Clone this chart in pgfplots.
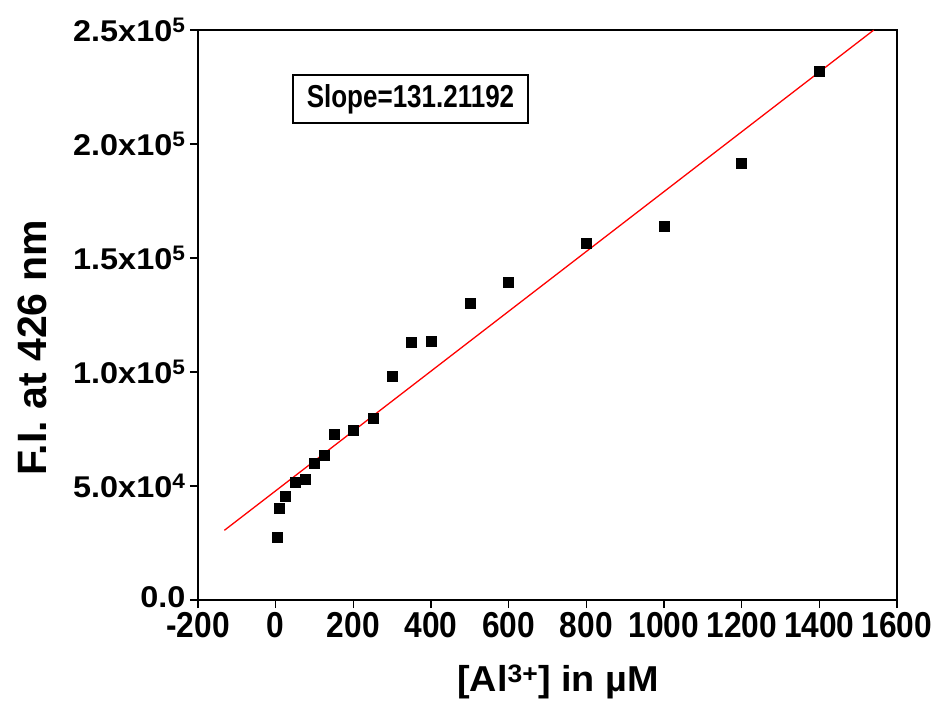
\documentclass[border=0pt]{standalone}
\usepackage{fontspec}
\setmainfont{Liberation Sans}
\usepackage{graphicx}
\usepackage{pgfplots}
\pgfplotsset{compat=1.18}

% narrow, tall tick numbers on x as in the reference
\newcommand{\xt}[1]{\scalebox{0.88}[1]{#1}}
\newcommand{\yt}[1]{\scalebox{1.08}[1]{#1}}

\begin{document}
\begin{tikzpicture}
% fix the page to the reference frame (1pt = 1px)
\path[use as bounding box] (-198pt,-110pt) rectangle (742pt,600pt);
\begin{axis}[
  at={(0,0)}, anchor=south west,
  scale only axis,
  width=699pt, height=570pt,
  xmin=-200, xmax=1600,
  ymin=0, ymax=250000,
  axis line style={line width=2pt},
  tick style={line width=1.6pt, black},
  major tick length=8pt,
  tick align=outside,
  xtick pos=bottom, ytick pos=left,
  xtick={-200,0,200,400,600,800,1000,1200,1400,1600},
  xticklabels={\xt{-200},\xt{0},\xt{200},\xt{400},\xt{600},\xt{800},\xt{1000},\xt{1200},\xt{1400},\xt{1600}},
  ytick={0,50000,100000,150000,200000,250000},
  yticklabels={\raisebox{5pt}{\yt{0.0}},\yt{5.0x10\textsuperscript{4}},\yt{1.0x10\textsuperscript{5}},\yt{1.5x10\textsuperscript{5}},\yt{2.0x10\textsuperscript{5}},\yt{2.5x10\textsuperscript{5}}},
  xticklabel style={font=\fontsize{36}{40}\selectfont\bfseries, yshift=-1pt},
  yticklabel style={font=\fontsize{30}{34}\selectfont\bfseries, xshift=-1pt},
  scaled ticks=false,
  xlabel={\scalebox{1.05}[1]{[Al\textsuperscript{3+}] in µM}},
  ylabel={F.I. at 426 nm},
  xlabel style={font=\fontsize{36}{40}\selectfont\bfseries, at={(axis description cs:0.515,-0.144)}, anchor=center},
  ylabel style={font=\fontsize{41}{45}\selectfont\bfseries, at={(axis description cs:-0.2375,0.442)}, anchor=center, rotate=0},
  clip=false,
]
\addplot[red, line width=1.3pt] coordinates {(-132,30570) (1540,249960)};
\addplot[only marks, mark=square*, mark size=5pt, black] coordinates {
  (5,27600) (10,40300) (25,45600) (50,51800) (75,53100) (100,60100)
  (125,63600) (150,72800) (200,74600) (250,79800) (300,98200)
  (350,113200) (400,113600) (500,130300) (600,139500) (800,156600)
  (1000,164000) (1200,191700) (1400,232000)
};
\node[draw, line width=1.2pt, minimum width=235pt, minimum height=48pt, inner sep=0pt,
  font=\fontsize{26}{30}\selectfont\bfseries]
  at (axis description cs:0.304,0.879) {\scalebox{1}[1.22]{Slope=131.21192}};
\end{axis}
\end{tikzpicture}
\end{document}
